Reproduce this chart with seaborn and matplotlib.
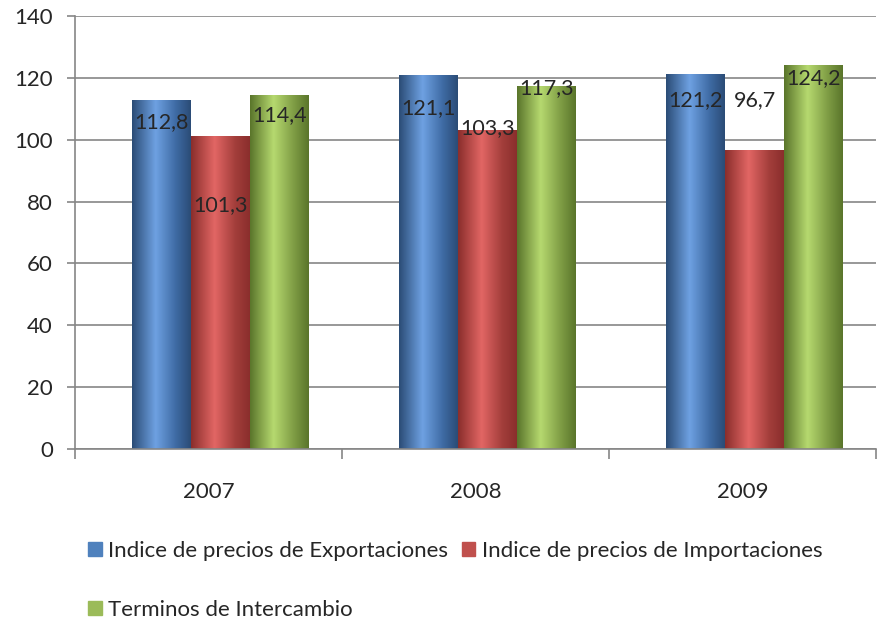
import matplotlib
matplotlib.use("Agg")
import matplotlib.pyplot as plt
import numpy as np
import pandas as pd
import seaborn as sns
from matplotlib.colors import LinearSegmentedColormap

years = ["2007", "2008", "2009"]
series = [
    "Indice de precios de Exportaciones",
    "Indice de precios de Importaciones",
    "Terminos de Intercambio",
]
exportaciones = [112.8, 121.1, 121.2]
importaciones = [101.3, 103.3, 96.7]
terminos = [114.4, 117.3, 124.2]
# where Excel put each data label (value units), per series then year
label_y = [[105.8, 110.2, 112.8], [78.9, 103.8, 112.8], [108.0, 116.7, 120.0]]

base_colors = ["#4F81BD", "#C0504D", "#9BBB59"]
grad = [
    ("#2B4C76", "#6EA1E2", "#3E6AA3"),
    ("#8A2E2C", "#E26664", "#A33E3B"),
    ("#5A752B", "#B6D96F", "#7E9C44"),
]

df = pd.DataFrame({
    "year": years * 3,
    "serie": [s for s in series for _ in years],
    "valor": exportaciones + importaciones + terminos,
})

sns.set_style("white")
plt.rcParams["font.family"] = ["Lato", "DejaVu Sans"]

fig = plt.figure(figsize=(8.88, 6.18), dpi=100)
ax = fig.add_axes([0.0845, 0.2735, 0.902, 0.7005])

sns.barplot(data=df, x="year", y="valor", hue="serie", hue_order=series,
            palette=base_colors, width=0.66, saturation=1, ax=ax,
            legend=False, edgecolor="none", errorbar=None)

ax.set_xlim(-0.5, 2.5)
ax.set_ylim(0, 140)
ax.set_yticks(range(0, 141, 20))
ax.yaxis.grid(True, color="#868686", linewidth=1.2)
ax.set_axisbelow(True)
for s in ["top", "right"]:
    ax.spines[s].set_visible(False)
for s in ["left", "bottom"]:
    ax.spines[s].set_color("#868686")
    ax.spines[s].set_linewidth(1.2)
ax.set_xlabel("")
ax.set_ylabel("")
ax.tick_params(axis="y", length=6, color="#868686", width=1.2, labelsize=16, pad=10, left=True)
ax.tick_params(axis="x", which="major", length=0, labelsize=16, pad=24)
ax.set_xticks([-0.5, 0.5, 1.5, 2.5], minor=True)
ax.tick_params(axis="x", which="minor", length=7, color="#868686", width=1.2, bottom=True)
ax.tick_params(axis="x", which="major", bottom=False)

# gradient fill clipped to each bar (Excel draws the groups a bit right of centre)
shift = 0.045
patches = ax.patches[:9]
for i, p in enumerate(patches):
    p.set_x(p.get_x() + shift)
    si = i // 3
    dark, light, mid = grad[si]
    cmap = LinearSegmentedColormap.from_list(
        "g", [(0, dark), (0.4, light), (0.75, mid), (1, dark)])
    x0, y0 = p.get_x(), p.get_y()
    w, h = p.get_width(), p.get_height()
    img = ax.imshow(np.linspace(0, 1, 200).reshape(1, -1), cmap=cmap,
                    extent=[x0, x0 + w, y0, y0 + h], aspect="auto",
                    zorder=p.get_zorder() + 0.1, interpolation="bilinear")
    img.set_clip_path(p)
    yi = i % 3
    ax.text(x0 + w / 2, label_y[si][yi], f"{p.get_height():.1f}".replace(".", ","),
            ha="center", va="center", fontsize=15.5, zorder=5)

ax.set_xlim(-0.5, 2.5)
ax.set_ylim(0, 140)

handles = [plt.Rectangle((0, 0), 1, 1, color=c) for c in base_colors]
order = [0, 2, 1]
fig.legend([handles[k] for k in order], [series[k] for k in order],
           loc="upper left", bbox_to_anchor=(0.087, 0.143),
           ncol=2, frameon=False, fontsize=16, handlelength=0.6,
           handleheight=0.6, handletextpad=0.3, columnspacing=0.6,
           labelspacing=1.75, borderpad=0)

fig.savefig("out.png", dpi=100)
